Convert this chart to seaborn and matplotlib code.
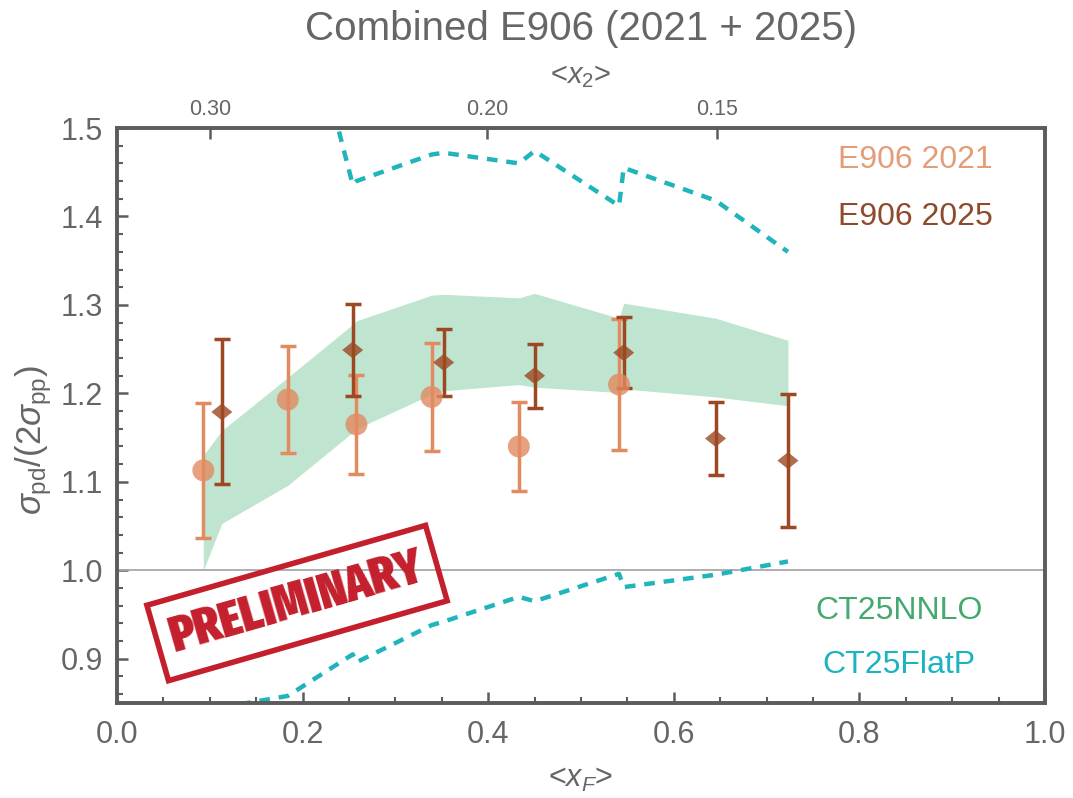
import numpy as np
import matplotlib
matplotlib.use("Agg")
import matplotlib.pyplot as plt
from matplotlib import font_manager as fm
from matplotlib.ticker import MultipleLocator, FormatStrFormatter
import seaborn as sns

# E906 2021 measurement
x_2021 = [0.093, 0.184, 0.258, 0.339, 0.433, 0.541]
y_2021 = [1.113, 1.193, 1.165, 1.196, 1.140, 1.210]
err_2021 = [0.076, 0.060, 0.056, 0.061, 0.050, 0.074]

# E906 2025 measurement
x_2025 = [0.113, 0.254, 0.352, 0.450, 0.546, 0.645, 0.723]
y_2025 = [1.179, 1.249, 1.235, 1.220, 1.246, 1.149, 1.124]
err_2025 = [0.082, 0.052, 0.038, 0.036, 0.040, 0.041, 0.075]

# CT25NNLO uncertainty band
theory_x = [0.093, 0.113, 0.184, 0.254, 0.258, 0.339, 0.352, 0.433, 0.450, 0.541, 0.546, 0.645, 0.723]
nnlo_lo = [1.000, 1.053, 1.096, 1.156, 1.160, 1.199, 1.203, 1.210, 1.207, 1.201, 1.205, 1.196, 1.186]
nnlo_hi = [1.130, 1.158, 1.218, 1.278, 1.282, 1.311, 1.312, 1.308, 1.313, 1.285, 1.302, 1.285, 1.260]

# CT25FlatP uncertainty edges
flat_hi_x = [0.184, 0.254, 0.258, 0.339, 0.352, 0.433, 0.450, 0.541, 0.546, 0.645, 0.723]
flat_hi = [1.720, 1.436, 1.440, 1.470, 1.472, 1.460, 1.474, 1.412, 1.455, 1.418, 1.360]
flat_lo = [0.835, 0.845, 0.858, 0.905, 0.896, 0.938, 0.942, 0.970, 0.965, 0.996, 0.981, 0.995, 1.010]

# upper axis: <x2> values at the corresponding <xF>
x2_tick_pos = [0.100, 0.399, 0.647]
x2_tick_labels = ["0.30", "0.20", "0.15"]

c2021 = "#e28a60"
c2025 = "#9c4822"
c_band = "#bfe5d1"
c_flat = "#20b4bb"
c_stamp = "#c41f2d"
grey = "#5c5c5c"
text_grey = "#666666"


def condensed_bold_font():
    """Return the most condensed bold upright face installed, if any."""
    best, best_rank = None, 99
    for f in fm.fontManager.ttflist:
        key = (f.fname + " " + f.name).lower().replace(" ", "").replace("-", "")
        if "italic" in key or "oblique" in key:
            continue
        w = f.weight if isinstance(f.weight, int) else {"bold": 700, "heavy": 800, "black": 900,
                                                         "extra bold": 800, "semibold": 600,
                                                         "demibold": 600}.get(str(f.weight), 400)
        if w < 700:
            continue
        if "extracondensed" in key or "ultracondensed" in key:
            rank = 0
        elif "semicondensed" in key:
            rank = 3
        elif "condensed" in key or "narrow" in key or "compressed" in key:
            rank = 1
        else:
            continue
        if rank < best_rank:
            best, best_rank = f.fname, rank
    if best is None:
        return fm.FontProperties(family="Liberation Sans", weight="bold")
    return fm.FontProperties(fname=best)


sns.set_theme(style="ticks")
plt.rcParams["font.family"] = ["Liberation Sans", "DejaVu Sans"]
plt.rcParams["mathtext.fontset"] = "custom"
plt.rcParams["mathtext.rm"] = "Liberation Sans"
plt.rcParams["mathtext.it"] = "Liberation Sans:italic"
plt.rcParams["mathtext.bf"] = "Liberation Sans:bold"

fig = plt.figure(figsize=(10.73, 7.98), dpi=100)
ax = fig.add_axes([117 / 1073, 1 - 703 / 798, 928 / 1073, 575 / 798])

ax.fill_between(theory_x, nnlo_lo, nnlo_hi, color=c_band, lw=0, zorder=1)
ax.axhline(1.0, color="#a8a8a8", lw=1.3, zorder=1.5)

sns.lineplot(x=flat_hi_x, y=flat_hi, ax=ax, color=c_flat, lw=3.2,
             estimator=None, sort=False, zorder=2)
sns.lineplot(x=theory_x, y=flat_lo, ax=ax, color=c_flat, lw=3.2,
             estimator=None, sort=False, zorder=2)
for ln in ax.lines[-2:]:
    ln.set_dashes([2.4, 2.0])

ax.errorbar(x_2021, y_2021, yerr=err_2021, fmt="none", ecolor=c2021,
            elinewidth=2.5, capsize=5.5, capthick=2.5, zorder=3)
ax.errorbar(x_2025, y_2025, yerr=err_2025, fmt="none", ecolor=c2025,
            elinewidth=2.5, capsize=5.5, capthick=2.5, zorder=3.2)
sns.scatterplot(x=x_2021, y=y_2021, ax=ax, marker="o", s=250, color=c2021,
                alpha=0.8, edgecolor="none", zorder=4)
sns.scatterplot(x=x_2025, y=y_2025, ax=ax, s=230, color=c2025, alpha=0.8,
                marker=[(-1, 0), (0, -0.8), (1, 0), (0, 0.8)],
                edgecolor="none", zorder=4.2)

ax.set_xlim(0, 1)
ax.set_ylim(0.85, 1.5)
ax.set_xticks(np.arange(0, 1.01, 0.2))
ax.set_yticks(np.arange(0.9, 1.51, 0.1))
ax.xaxis.set_major_formatter(FormatStrFormatter("%.1f"))
ax.yaxis.set_major_formatter(FormatStrFormatter("%.1f"))
ax.xaxis.set_minor_locator(MultipleLocator(0.05))
ax.yaxis.set_minor_locator(MultipleLocator(0.02))
ax.tick_params(which="both", direction="in", color=grey, top=False, right=False)
ax.tick_params(which="major", length=8, width=1.8, labelsize=22,
               labelcolor=text_grey)
ax.tick_params(which="minor", length=4.5, width=1.5)
ax.tick_params(axis="x", which="major", pad=12)
ax.tick_params(axis="y", which="major", pad=10)

ax.set_xlabel(r"<$x_F$>", fontsize=22, color=text_grey, labelpad=10)
ax.set_ylabel(r"$\sigma_{\mathrm{pd}}/(2\sigma_{\mathrm{pp}})$", fontsize=25,
              color=text_grey)
ax.yaxis.set_label_coords(-0.068, 0.457)

ax2 = ax.twiny()
ax2.set_xlim(0, 1)
ax2.set_xticks(x2_tick_pos, x2_tick_labels)
ax2.tick_params(axis="x", direction="in", length=8, width=1.8, color=grey,
                labelsize=15.5, labelcolor=text_grey, pad=6)
ax2.set_xlabel(r"<$x_2$>", fontsize=21, color=text_grey, labelpad=11)
ax2.set_title("Combined E906 (2021 + 2025)", fontsize=29, color=text_grey,
              pad=16)

for a in (ax, ax2):
    for sp in a.spines.values():
        sp.set_color(grey)
        sp.set_linewidth(2.6)

ax.text(0.777, 0.944, "E906 2021", transform=ax.transAxes, fontsize=23,
        color="#e49d78", va="center", ha="left")
ax.text(0.777, 0.845, "E906 2025", transform=ax.transAxes, fontsize=23,
        color="#8e4a2a", va="center", ha="left")
ax.text(0.753, 0.160, "CT25NNLO", transform=ax.transAxes, fontsize=23,
        color="#43a96e", va="center", ha="left")
ax.text(0.760, 0.066, "CT25FlatP", transform=ax.transAxes, fontsize=23,
        color="#1cb3c0", va="center", ha="left")

# "PRELIMINARY" stamp, sized so the lettering spans about 262 px
stamp_font = condensed_bold_font()
renderer = fig.canvas.get_renderer()
probe = fig.text(0, 0, "PRELIMINARY", fontproperties=stamp_font, fontsize=40)
ext = probe.get_window_extent(renderer)
probe.remove()
stamp_size = 40 * 262.0 / ext.width
text_h_px = ext.height * 262.0 / ext.width
size_px = stamp_size * fig.dpi / 72.0
pad = max(0.12, (78.0 - text_h_px) / 2.0 / size_px)
stamp_font.set_size(stamp_size)
ax.text(0.194, 0.963, "PRELIMINARY", rotation=16, rotation_mode="anchor",
        ha="center", va="center", fontproperties=stamp_font, color=c_stamp,
        bbox=dict(boxstyle=f"square,pad={pad:.3f}", fc="none", ec=c_stamp, lw=4),
        zorder=6)

fig.savefig("out.png", dpi=100)
